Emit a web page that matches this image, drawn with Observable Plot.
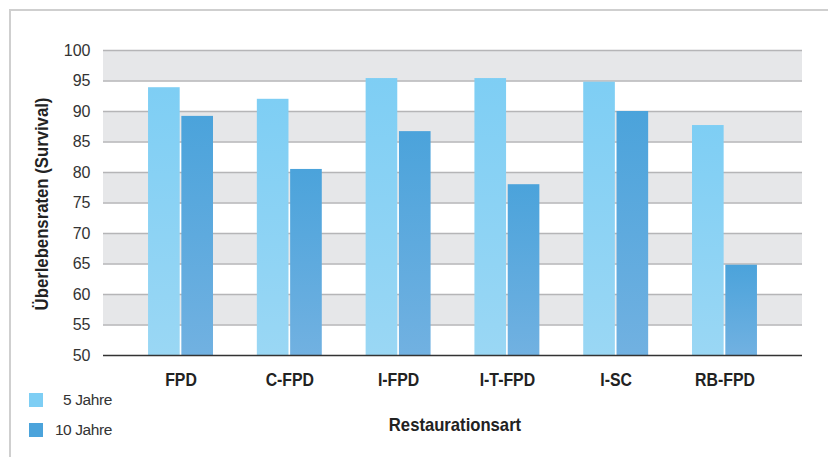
<!DOCTYPE html>
<html>
<head>
<meta charset="utf-8">
<script src="https://cdn.jsdelivr.net/npm/d3@7"></script>
<script src="https://cdn.jsdelivr.net/npm/@observablehq/plot@0.6"></script>
<style>
  html, body { margin: 0; padding: 0; background: #fff; }
  #wrap { position: relative; width: 828px; height: 457px; overflow: hidden; font-family: "Liberation Sans", Arial, sans-serif; }
  #frame { position: absolute; left: 9px; top: 9px; right: -5px; bottom: -5px; border-top: 2px solid #cfcfcf; border-left: 2px solid #cfcfcf; }
  .layer { position: absolute; left: 0; top: 0; }
  .title { position: absolute; font-family: "Liberation Sans", Arial, sans-serif; font-weight: bold; color: #222; white-space: nowrap; }
  #ylab { left: 42px; top: 204px; font-size: 19px; transform: translate(-50%, -50%) rotate(-90deg) scaleX(0.88); }
  #xlab { left: 455px; top: 425px; font-size: 18.5px; transform: translate(-50%, -50%) scaleX(0.9); }
  .leg { position: absolute; left: 29px; display: flex; align-items: center; font-size: 15.5px; color: #333; }
  .leg .sw { width: 14px; height: 14px; }
  .leg .lt { width: 69px; text-align: right; letter-spacing: -0.4px; }
</style>
</head>
<body>
<div id="wrap">
  <div id="frame"></div>
  <div id="bgLayer" class="layer"></div>
  <div id="fgLayer" class="layer"></div>
  <div id="topLayer" class="layer"></div>
  <div id="ylab" class="title">Überlebensraten (Survival)</div>
  <div id="xlab" class="title">Restaurationsart</div>
  <div id="legend"></div>
</div>
<script>
const categories = ["FPD", "C-FPD", "I-FPD", "I-T-FPD", "I-SC", "RB-FPD"];
const seriesNames = ["5 Jahre", "10 Jahre"];
const values5 = [93.9, 92.0, 95.4, 95.4, 94.8, 87.7];
const values10 = [89.2, 80.5, 86.7, 78.0, 90.0, 64.8];
const yTicks = [50, 55, 60, 65, 70, 75, 80, 85, 90, 95, 100];
const seriesColors = {"5 Jahre": ["#7ecef4", "#9ad7f4"], "10 Jahre": ["#4ba3db", "#71b1e1"]};

const data = [];
categories.forEach((c, i) => {
  data.push({category: c, series: seriesNames[0], value: values5[i]});
  data.push({category: c, series: seriesNames[1], value: values10[i]});
});
// alternating shaded bands between ticks: 55-60, 65-70, ...
const bands = [];
for (let i = 1; i < yTicks.length - 1; i += 2) bands.push({y1: yTicks[i], y2: yTicks[i + 1]});

const gradId = s => s === "5 Jahre" ? "url(#g5)" : "url(#g10)";

const common = {
  width: 828,
  height: 457,
  marginLeft: 103,
  marginRight: 26,
  marginTop: 50,
  marginBottom: 102,
  style: {fontFamily: "Liberation Sans, Arial, sans-serif", background: "transparent", overflow: "visible"}
};
const yScale = {domain: [yTicks[0], yTicks[yTicks.length - 1]], ticks: yTicks, label: null};

// background: bands, grid lines, y axis
const bgPlot = Plot.plot({
  ...common,
  y: yScale,
  marks: [
    Plot.rectY(bands, {y1: "y1", y2: "y2", fill: "#e6e7e9"}),
    Plot.ruleY(yTicks.slice(1), {stroke: "#b5b5b7", strokeWidth: 1.6}),
    Plot.axisY({ticks: yTicks, tickSize: 0, tickPadding: 13, fontSize: 16, fill: "#333", label: null})
  ]
});

// foreground: grouped bars
const fgPlot = Plot.plot({
  ...common,
  fx: {domain: categories, paddingInner: 0.403, paddingOuter: 0.414, round: false, label: null},
  x: {domain: seriesNames, paddingInner: 0.05, paddingOuter: 0, round: false, axis: null},
  y: {...yScale, axis: null},
  marks: [
    Plot.barY(data, {fx: "category", x: "series", y1: yTicks[0], y2: "value", fill: d => gradId(d.series)}),
    Plot.axisFx({anchor: "bottom", tickSize: 0, tickPadding: 18, fontSize: 18, fontWeight: "bold", fill: "#222", label: null})
  ]
});

// top: baseline
const topPlot = Plot.plot({
  ...common,
  y: {...yScale, axis: null},
  marks: [Plot.ruleY([yTicks[0]], {stroke: "#333", strokeWidth: 1.6})]
});

// gradient definitions
const ns = "http://www.w3.org/2000/svg";
const defs = document.createElementNS(ns, "defs");
[["g5", "5 Jahre"], ["g10", "10 Jahre"]].forEach(([id, s]) => {
  const g = document.createElementNS(ns, "linearGradient");
  g.setAttribute("id", id);
  g.setAttribute("x1", "0"); g.setAttribute("y1", "0");
  g.setAttribute("x2", "0"); g.setAttribute("y2", "1");
  seriesColors[s].forEach((c, k) => {
    const st = document.createElementNS(ns, "stop");
    st.setAttribute("offset", k === 0 ? "0" : "1");
    st.setAttribute("stop-color", c);
    g.appendChild(st);
  });
  defs.appendChild(g);
});
fgPlot.insertBefore(defs, fgPlot.firstChild);

// condensed look for category labels
fgPlot.querySelectorAll('g[aria-label="fx-axis tick label"] text').forEach(t => {
  const tr = t.getAttribute("transform") || "";
  t.setAttribute("transform", tr + " scale(0.88,1)");
});

document.getElementById("bgLayer").appendChild(bgPlot);
document.getElementById("fgLayer").appendChild(fgPlot);
document.getElementById("topLayer").appendChild(topPlot);

// legend
const legend = document.getElementById("legend");
seriesNames.forEach((s, i) => {
  const row = document.createElement("div");
  row.className = "leg";
  row.style.top = (391 + i * 30) + "px";
  const sw = document.createElement("div");
  sw.className = "sw";
  sw.style.background = seriesColors[s][0];
  const lt = document.createElement("div");
  lt.className = "lt";
  lt.textContent = s;
  row.appendChild(sw); row.appendChild(lt);
  legend.appendChild(row);
});
</script>
</body>
</html>
